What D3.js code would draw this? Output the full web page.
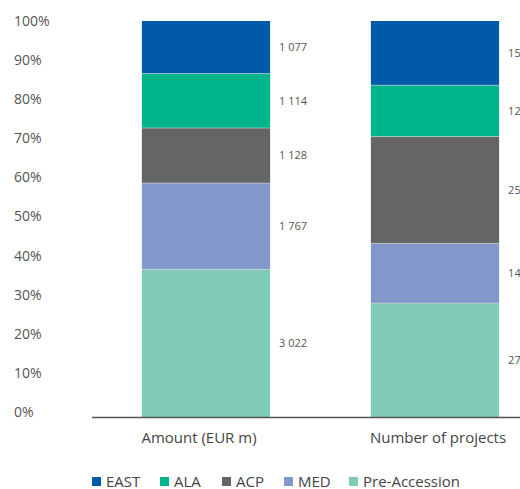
<!DOCTYPE html>
<html><head><meta charset="utf-8">
<script src="https://cdn.jsdelivr.net/npm/d3@7"></script>
<style>
body{margin:0;background:#fff;}
text{font-family:"Open Sans",sans-serif;}
</style></head>
<body><svg id="c" width="520" height="489"></svg>
<script>
const categories = ["Amount (EUR m)", "Number of projects"];
const seriesNames = ["Pre-Accession", "MED", "ACP", "ALA", "EAST"];
const legendOrder = ["EAST", "ALA", "ACP", "MED", "Pre-Accession"];
const amountValues = [3022, 1767, 1128, 1114, 1077];
const projectValues = [273, 143, 256, 123, 154];
const valueLabelsAmount = ["3 022", "1 767", "1 128", "1 114", "1 077"];
const valueLabelsProjects = ["273", "143", "256", "123", "154"];
const yTicks = [0, 0.1, 0.2, 0.3, 0.4, 0.5, 0.6, 0.7, 0.8, 0.9, 1.0];
const colors = {"EAST":"#005AAA","ALA":"#00B48C","ACP":"#646567","MED":"#8297CB","Pre-Accession":"#80CBB5"};

const svg = d3.select("#c");
const x = d3.scaleBand().domain(categories).range([91.5, 549.5]).paddingInner(0.44).paddingOuter(0.22);
const y = d3.scaleLinear().domain([0, 1]).range([417, 21]);

const allVals = [amountValues, projectValues];
const allLabels = [valueLabelsAmount, valueLabelsProjects];

categories.forEach((cat, ci) => {
  const vals = allVals[ci];
  const total = d3.sum(vals);
  let cum = 0;
  const segs = vals.map((v, i) => {
    const s = {name: seriesNames[i], y0: cum / total, y1: (cum + v) / total, label: allLabels[ci][i]};
    cum += v; return s;
  });
  const g = svg.append("g");
  g.selectAll("rect").data(segs).join("rect")
    .attr("x", x(cat)).attr("width", x.bandwidth())
    .attr("y", d => y(d.y1)).attr("height", d => y(d.y0) - y(d.y1))
    .attr("fill", d => colors[d.name]);
  g.selectAll("line.sep").data(segs.slice(1)).join("line")
    .attr("x1", x(cat)).attr("x2", x(cat) + x.bandwidth())
    .attr("y1", d => y(d.y0)).attr("y2", d => y(d.y0))
    .attr("stroke", "#d8d8d8").attr("stroke-width", 0.6);
  g.selectAll("text.v").data(segs).join("text")
    .attr("x", x(cat) + x.bandwidth() + 9)
    .attr("y", d => y((d.y0 + d.y1) / 2))
    .attr("dy", "0.35em")
    .attr("font-size", 11).attr("fill", "#555")
    .text(d => d.label);
});

// y axis labels
svg.append("g").selectAll("text").data(yTicks).join("text")
  .attr("x", 14).attr("y", d => y(d) - 5 * (1 - d))
  .attr("dy", "0.35em").attr("font-size", 14).attr("fill", "#555")
  .text(d => d3.format(".0%")(d));

// x axis baseline
svg.append("line").attr("x1", 92).attr("x2", 520).attr("y1", 417.5).attr("y2", 417.5)
  .attr("stroke", "#555").attr("stroke-width", 1.5);

// category labels
const catShift = [-7, 3];
svg.append("g").selectAll("text").data(categories).join("text")
  .attr("x", (d, i) => x(d) + x.bandwidth() / 2 + catShift[i]).attr("y", 443)
  .attr("text-anchor", "middle").attr("font-size", 15).attr("fill", "#444")
  .text(d => d);

// legend
const legX = [92, 160, 222, 284, 349];
const lg = svg.append("g");
legendOrder.forEach((n, i) => {
  lg.append("rect").attr("x", legX[i]).attr("y", 477).attr("width", 9).attr("height", 9).attr("fill", colors[n]);
  lg.append("text").attr("x", legX[i] + 14).attr("y", 487).attr("font-size", 15).attr("fill", "#444").text(n);
});
</script></body></html>
